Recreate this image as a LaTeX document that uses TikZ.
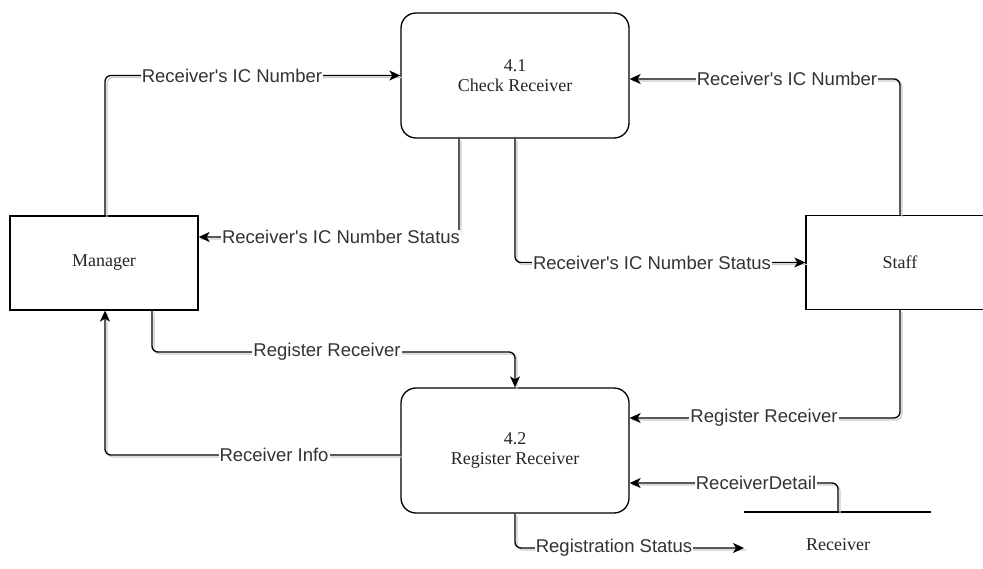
\documentclass[tikz,border=0pt]{standalone}
\usepackage{fontspec}
\setmainfont{Liberation Serif}
\newfontfamily\lblfont{Liberation Sans}
\usetikzlibrary{arrows.meta}

\begin{document}
\begin{tikzpicture}[x=1pt,y=-1pt,
  proc/.style={draw, line width=1.3pt, rounded corners=15pt, minimum width=228pt,
    minimum height=125pt, align=center, inner sep=0pt, text=black!85,
    font=\fontsize{18}{20}\selectfont},
  ent/.style={draw, line width=1.3pt, minimum width=188pt, minimum height=94pt,
    text=black!85, font=\fontsize{18}{20}\selectfont},
  flow/.style={line width=1.3pt, rounded corners=6pt,
    -{Stealth[length=11pt,width=10pt,inset=3pt]},
    preaction={draw=black!20, line width=1.2pt, -,
      transform canvas={shift={(2pt,-2pt)}}}},
  lbl/.style={fill=white, inner xsep=1pt, inner ysep=0pt, text=black!80,
    font=\lblfont\fontsize{18.5}{20}\selectfont},
]
\fill[white] (0,0) rectangle (983,569);
\useasboundingbox (0,0) rectangle (983,569);

% processes and external entities
\node[proc] (p41) at (515,75.5) {4.1\\Check Receiver};
\node[proc] (p42) at (515,450.5) {4.2\\Register Receiver};
\node[ent] (mgr) at (104,263) {Manager};
\node[ent] (stf) at (900,262.5) {Staff};

% data store
\coordinate (sL) at (744,512);
\coordinate (sR) at (931,512);
\coordinate (sTop) at (838,512);
\draw[line width=1.3pt] (sL) -- (sR);
\node[text=black!85, font=\fontsize{18}{20}\selectfont] (store) at (838,545) {Receiver};
\coordinate (rsEnd) at (744,548);

% data flows
\draw[flow] (mgr.north -| 105,0) |- (p41.west);
\draw[flow] (p41.south -| 459,0) |- (mgr.east |- 0,237);
\draw[flow] (p41.south) |- (stf.west);
\draw[flow] (stf.north) |- (p41.east |- 0,79);
\draw[flow] (mgr.south -| 152,0) |- (p42.north |- 0,352) -- (p42.north);
\draw[flow] (p42.west |- 0,455) -| (mgr.south -| 105,0);
\draw[flow] (stf.south) |- (p42.east |- 0,418);
\draw[flow] (sTop) |- (p42.east |- 0,483);
\draw[flow] (p42.south) |- (rsEnd);

% flow labels
\node[lbl] (t1) at (232,76) {Receiver\textquotesingle s IC Number};
\node[lbl] (t2) at (341,237) {Receiver\textquotesingle s IC Number Status};
\node[lbl] (t3) at (652,263) {Receiver\textquotesingle s IC Number Status};
\node[lbl] (t4) at (787,79) {Receiver\textquotesingle s IC Number};
\node[lbl] (t5) at (327,352) {Register Receiver};
\node[lbl] (t6) at (274,455) {Receiver Info};
\node[lbl] (t7) at (764,418) {Register Receiver};
\node[lbl] (t8) at (756,483) {ReceiverDetail};
\node[lbl] (t9) at (614,548) {Registration Status};
\end{tikzpicture}
\end{document}
